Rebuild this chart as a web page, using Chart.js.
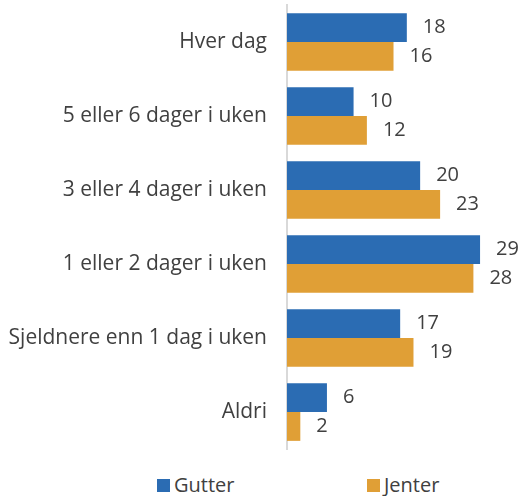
<!DOCTYPE html>
<html>
<head>
<meta charset="utf-8">
<script src="https://cdn.jsdelivr.net/npm/chart.js@4.4.1/dist/chart.umd.min.js"></script>
<style>
  body { margin: 0; background: #fff; }
  #wrap { position: relative; width: 523px; height: 496px; }
  #legend { position: absolute; top: 474px; left: 0; width: 523px; height: 22px;
    font-family: "Open Sans", sans-serif; font-size: 20px; color: #404040; }
  .item { position: absolute; top: 0; display: flex; align-items: center; line-height: 22px; }
  .box { width: 13px; height: 13px; margin-right: 4px; }
</style>
</head>
<body>
<div id="wrap">
  <canvas id="chart" width="523" height="470"></canvas>
  <div id="legend">
    <div class="item" style="left:157px"><span class="box" style="background:#2b6cb3"></span>Gutter</div>
    <div class="item" style="left:367px"><span class="box" style="background:#e09f36"></span>Jenter</div>
  </div>
</div>
<script>
const categories = [
  "Hver dag",
  "5 eller 6 dager i uken",
  "3 eller 4 dager i uken",
  "1 eller 2 dager i uken",
  "Sjeldnere enn 1 dag i uken",
  "Aldri",
];
const gutter = [18, 10, 20, 29, 17, 6];
const jenter = [16, 12, 23, 28, 19, 2];

// draw value labels to the right of each bar
const valueLabels = {
  id: "valueLabels",
  afterDatasetsDraw(chart) {
    const ctx = chart.ctx;
    ctx.save();
    ctx.font = "20px 'Open Sans', sans-serif";
    ctx.fillStyle = "#404040";
    ctx.textBaseline = "middle";
    chart.data.datasets.forEach((ds, i) => {
      chart.getDatasetMeta(i).data.forEach((bar, j) => {
        ctx.fillText(String(ds.data[j]), bar.x + 16, bar.y);
      });
    });
    ctx.restore();
  },
};

const ctx = document.getElementById("chart").getContext("2d");
new Chart(ctx, {
  type: "bar",
  data: {
    labels: categories,
    datasets: [
      { label: "Gutter", data: gutter, backgroundColor: "#2b6cb3" },
      { label: "Jenter", data: jenter, backgroundColor: "#e09f36" },
    ],
  },
  options: {
    indexAxis: "y",
    responsive: false,
    animation: false,
    layout: { padding: { top: 5, bottom: 21, left: 0, right: 3 } },
    categoryPercentage: 0.78,
    barPercentage: 1,
    plugins: {
      legend: { display: false },
      tooltip: { enabled: false },
    },
    scales: {
      x: {
        min: 0,
        max: 35,
        display: false,
      },
      y: {
        afterFit(scale) {
          scale.width = 287;
          // tick padding otherwise adds space above and below the axis
          scale.paddingTop = 0;
          scale.paddingBottom = 0;
        },
        grid: { display: false, drawTicks: false },
        border: { color: "#d9d9d9", width: 2 },
        ticks: {
          color: "#404040",
          padding: 20,
          font: { family: "'Open Sans', sans-serif", size: 21 },
        },
      },
    },
  },
  plugins: [valueLabels],
});
</script>
</body>
</html>
